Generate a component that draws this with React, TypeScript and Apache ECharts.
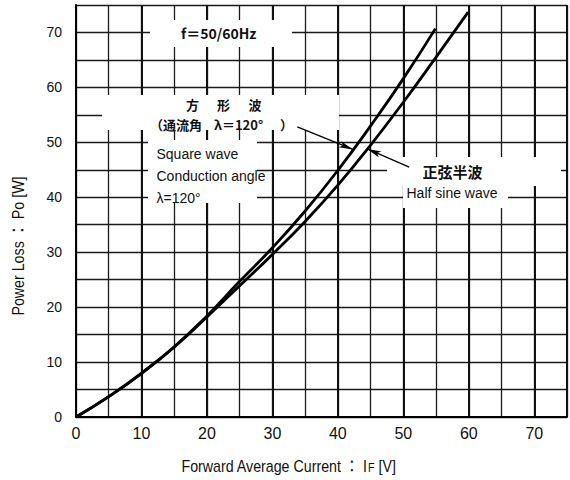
import React, { useEffect, useRef } from "react";
import * as echarts from "echarts";

// Square wave (conduction angle 120°) : forward average current vs power loss [W]
const squareWaveX = [0, 5, 10, 15, 20, 25, 30, 35, 40, 45, 50, 54.9];
const squareWaveY = [0, 3.7, 8.0, 12.8, 18.4, 24.7, 30.8, 37.5, 44.9, 53.0, 61.6, 70.7];

// Half sine wave
const halfSineX = [0, 5, 10, 15, 20, 25, 30, 35, 40, 45, 50, 55, 59.9];
const halfSineY = [0, 3.7, 7.9, 12.7, 18.2, 23.9, 29.6, 35.6, 42.2, 49.5, 57.3, 65.5, 73.7];

const xTickLabels = [0, 10, 20, 30, 40, 50, 60, 70];
const yTickLabels = [0, 10, 20, 30, 40, 50, 60, 70];

// leader lines (data coordinates): [start, end(on curve)]
const squareLeader = [[33.8, 52.8], [42.3, 48.7]];
const sineLeader = [[50.9, 45.5], [44.5, 48.8]];

const SANS = "'Liberation Sans', Arial, 'Noto Sans CJK JP', sans-serif";
const CJK = "'Noto Sans CJK JP', 'Liberation Sans', sans-serif";

function App() {
  const ref = useRef<HTMLDivElement | null>(null);

  useEffect(() => {
    if (!ref.current) return;
    const chart = echarts.init(ref.current, undefined, { renderer: "svg" });

    const whiteRect = (x: number, y: number, w: number, h: number) => ({
      type: "rect",
      z: 1,
      silent: true,
      shape: { x, y, width: w, height: h },
      style: { fill: "#fff" },
    });
    const txt = (
      text: string,
      x: number,
      y: number,
      font: string,
      size: number,
      weight: string,
      align = "left"
    ) => ({
      type: "text",
      z: 10,
      silent: true,
      x,
      y,
      style: {
        text,
        fontFamily: font,
        fontSize: size,
        fontWeight: weight,
        fill: "#111",
        textAlign: align,
        textVerticalAlign: "middle",
      },
    });

    const option: any = {
      animation: false,
      backgroundColor: "#fff",
      grid: { left: 76, top: 5, right: -3, bottom: 63, containLabel: false },
      xAxis: [
        {
          type: "value",
          min: 0,
          max: 75,
          interval: 5,
          axisLine: { show: true, onZero: false, lineStyle: { color: "#000", width: 2 } },
          axisTick: { show: false },
          splitLine: { show: true, lineStyle: { color: "#1a1a1a", width: 1.3 } },
          axisLabel: {
            formatter: (v: number) => (xTickLabels.includes(v) ? String(v) : ""),
            fontSize: 16,
            color: "#111",
            fontFamily: SANS,
            margin: 8,
          },
        },
        {
          type: "value",
          min: 0,
          max: 75,
          interval: 10,
          position: "bottom",
          axisLine: { show: false },
          axisTick: { show: false },
          axisLabel: { show: false },
          splitLine: { show: true, lineStyle: { color: "#111", width: 2 } },
        },
      ],
      yAxis: {
        type: "value",
        min: 0,
        max: 75,
        interval: 5,
        axisLine: { show: true, onZero: false, lineStyle: { color: "#000", width: 2 } },
        axisTick: { show: false },
        splitLine: { show: true, lineStyle: { color: "#1a1a1a", width: 1.4 } },
        axisLabel: {
          formatter: (v: number) => (yTickLabels.includes(v) ? String(v) : ""),
          fontSize: 14,
          color: "#111",
          fontFamily: SANS,
          margin: 14,
        },
      },
      series: [
        {
          name: "Square wave",
          type: "line",
          xAxisIndex: 0,
          smooth: true,
          symbol: "none",
          z: 5,
          lineStyle: { color: "#000", width: 2.8 },
          emphasis: { disabled: true },
          data: squareWaveX.map((x, i) => [x, squareWaveY[i]]),
          markLine: {
            silent: true,
            symbol: ["none", "arrow"],
            symbolSize: [5, 14],
            label: { show: false },
            lineStyle: { color: "#000", width: 1.3, type: "solid" },
            data: [[{ coord: squareLeader[0] }, { coord: squareLeader[1] }]],
          },
        },
        {
          name: "Half sine wave",
          type: "line",
          xAxisIndex: 0,
          smooth: true,
          symbol: "none",
          z: 5,
          lineStyle: { color: "#000", width: 2.8 },
          emphasis: { disabled: true },
          data: halfSineX.map((x, i) => [x, halfSineY[i]]),
          markLine: {
            silent: true,
            symbol: ["none", "arrow"],
            symbolSize: [5, 14],
            label: { show: false },
            lineStyle: { color: "#000", width: 1.3, type: "solid" },
            data: [[{ coord: sineLeader[0] }, { coord: sineLeader[1] }]],
          },
        },
      ],
      graphic: [
        whiteRect(150, 20, 142, 27),
        whiteRect(102, 95, 237, 35),
        whiteRect(148, 140, 109, 63),
        whiteRect(387, 157, 174, 29),
        whiteRect(403, 186, 105, 22),
        txt("f＝50/60Hz", 181, 33, CJK, 14, "bold"),
        txt("方", 192.5, 104, CJK, 13, "bold", "center"),
        txt("形", 223.5, 104, CJK, 13, "bold", "center"),
        txt("波", 255, 104, CJK, 13, "bold", "center"),
        txt("（通流角", 150, 124.5, CJK, 13, "bold"),
        txt("λ＝120°", 214, 124.5, CJK, 13, "bold"),
        txt("）", 280, 124.5, CJK, 13, "bold"),
        txt("Square wave", 156.5, 153.5, SANS, 14, "normal"),
        txt("Conduction angle", 156.5, 175.5, SANS, 14, "normal"),
        txt("λ=120°", 156.5, 197.5, SANS, 14, "normal"),
        txt("正弦半波", 422.5, 171.5, CJK, 15, "bold"),
        txt("Half sine wave", 406.5, 192.5, SANS, 14, "normal"),
        {
          type: "text",
          z: 10,
          silent: true,
          x: 181.5,
          y: 466,
          scaleX: 0.89,
          style: {
            text: "{a|Forward Average Current ： I}{b|F}{a| [V]}",
            textAlign: "left",
            textVerticalAlign: "middle",
            fill: "#111",
            rich: {
              a: { fontFamily: SANS, fontSize: 16, fill: "#111" },
              b: { fontFamily: SANS, fontSize: 12, fill: "#111", padding: [3, 0, 0, 0] },
            },
          },
        },
        {
          type: "text",
          z: 10,
          silent: true,
          x: 18,
          y: 246,
          rotation: Math.PI / 2,
          scaleX: 0.89,
          style: {
            text: "Power Loss ： Po [W]",
            fontFamily: SANS,
            fontSize: 16,
            fill: "#111",
            textAlign: "center",
            textVerticalAlign: "middle",
          },
        },
      ],
    };

    chart.setOption(option);
    return () => chart.dispose();
  }, []);

  return (
    <div
      ref={ref}
      style={{ position: "absolute", left: 0, top: 0, width: 570, height: 480, background: "#fff" }}
    />
  );
}

export default App;
